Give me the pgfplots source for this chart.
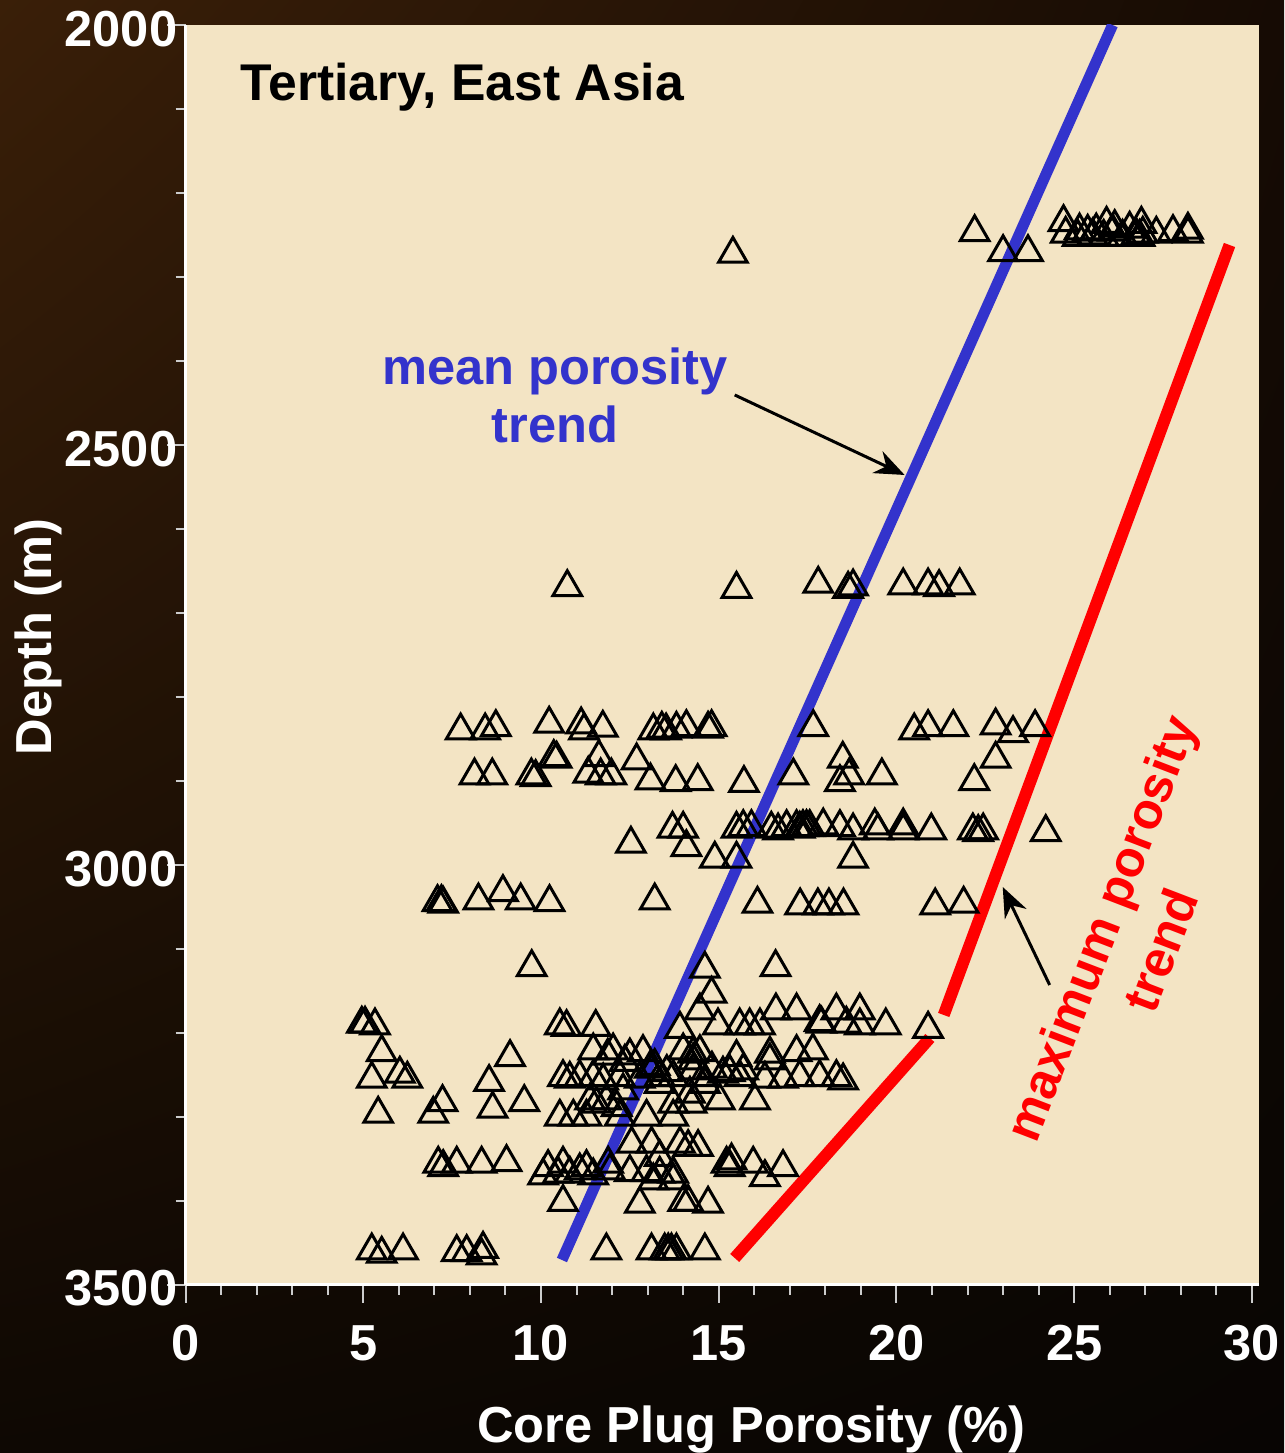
\documentclass[border=0pt]{standalone}
\usepackage{fontspec}
\setmainfont{Liberation Sans}
\usepackage{pgfplots}
\pgfplotsset{compat=1.18}
\usetikzlibrary{arrows.meta,shadings}
\definecolor{bgUL}{RGB}{58,31,8}
\definecolor{bgUR}{RGB}{22,11,4}
\definecolor{bgLL}{RGB}{14,8,3}
\definecolor{bgLR}{RGB}{8,5,3}
\definecolor{beige}{RGB}{243,228,196}
\definecolor{trendblue}{RGB}{51,51,204}
\definecolor{trendred}{RGB}{255,0,0}
\newcommand{\bigfont}{\bfseries\fontsize{14.4}{17}\selectfont}
\pgfplotstableread{
X Y
22.20 2246.9
23.00 2270.7
23.70 2270.7
24.70 2235.0
24.76 2248.9
25.15 2245.0
25.38 2246.5
25.62 2245.0
25.91 2237.0
26.09 2246.5
26.14 2240.9
26.56 2242.9
26.75 2250.9
26.89 2237.0
26.93 2248.9
27.31 2248.9
27.78 2246.9
28.20 2244.1
28.20 2248.9
25.52 2250.9
26.36 2252.5
25.10 2252.5
25.83 2252.5
26.84 2252.5
15.40 2272.7
10.74 2669.6
15.50 2671.7
17.80 2665.7
18.64 2671.7
18.78 2668.9
20.19 2667.7
20.89 2667.7
21.20 2669.6
21.78 2667.7
7.74 2840.4
8.43 2840.4
8.73 2836.4
10.23 2832.4
11.13 2833.3
11.21 2840.4
11.74 2837.2
13.16 2840.4
13.40 2838.4
13.52 2840.4
13.81 2838.4
14.09 2836.4
14.70 2838.4
14.80 2836.4
17.66 2836.4
20.50 2840.4
20.89 2836.4
21.60 2836.4
22.79 2834.4
23.28 2843.5
23.90 2836.4
10.36 2872.1
10.44 2874.1
11.63 2872.1
12.69 2876.1
18.49 2874.1
22.79 2874.1
8.13 2894.0
8.63 2894.0
9.73 2894.0
9.85 2895.9
11.33 2892.0
11.68 2894.0
11.98 2894.0
13.08 2900.0
13.79 2901.9
14.41 2900.7
15.71 2903.0
17.10 2894.0
18.41 2901.9
18.67 2894.0
19.59 2894.0
22.19 2900.7
12.53 2975.3
13.70 2957.5
14.00 2957.5
14.09 2979.3
14.89 2993.2
15.50 2993.2
15.50 2957.5
15.69 2955.5
15.92 2955.5
16.48 2957.5
16.67 2959.5
16.91 2955.5
17.19 2955.5
17.28 2957.5
17.37 2955.5
17.47 2955.5
17.56 2955.5
17.94 2953.6
18.41 2955.5
18.78 2959.5
18.78 2993.2
19.39 2953.6
19.48 2959.5
20.19 2953.6
20.19 2959.5
20.98 2959.5
22.15 2959.5
22.30 2961.4
22.44 2959.5
24.20 2961.4
7.09 3044.8
7.20 3044.8
7.25 3046.8
8.24 3042.9
8.93 3032.9
9.43 3042.9
10.24 3044.8
13.20 3042.9
16.09 3046.8
17.29 3048.8
17.79 3048.8
18.10 3048.8
18.51 3048.8
21.09 3048.8
21.89 3046.8
9.74 3122.2
14.61 3124.2
16.60 3122.2
14.80 3154.0
14.47 3173.9
4.96 3189.7
5.05 3189.7
5.33 3191.7
10.53 3191.7
10.72 3193.6
11.54 3193.6
13.91 3195.7
14.98 3191.7
15.59 3191.7
15.87 3191.7
16.16 3191.7
16.61 3173.9
17.19 3173.9
17.84 3187.7
17.89 3189.7
18.31 3173.9
18.59 3189.7
18.97 3173.9
18.97 3191.7
19.70 3191.7
20.89 3195.7
5.52 3223.4
9.13 3229.4
11.47 3221.5
12.03 3221.5
12.50 3227.5
12.87 3223.4
14.00 3221.5
14.28 3225.4
14.47 3223.4
14.28 3233.4
15.50 3229.4
16.44 3225.4
16.44 3233.4
17.19 3223.4
17.65 3221.5
11.88 3227.8
12.36 3235.0
5.24 3255.2
6.03 3249.2
6.24 3255.2
8.54 3259.1
10.62 3253.2
10.81 3255.2
11.09 3253.2
11.47 3253.2
11.75 3257.2
12.22 3253.2
12.31 3269.2
13.34 3261.2
13.34 3253.2
13.72 3253.2
14.28 3245.3
14.56 3253.2
15.12 3249.2
15.31 3247.2
15.59 3253.2
15.69 3245.3
16.30 3255.2
16.81 3255.2
17.28 3253.2
17.84 3253.2
18.31 3253.2
18.50 3257.2
12.78 3255.2
13.06 3243.3
13.54 3247.2
14.81 3243.3
14.61 3261.2
14.19 3273.1
13.20 3240.0
5.42 3296.9
6.97 3296.9
7.23 3283.0
8.64 3290.9
9.53 3283.0
11.38 3281.1
11.56 3285.0
11.84 3281.1
12.13 3288.9
10.53 3300.4
10.91 3300.4
11.28 3300.4
12.22 3300.4
12.97 3300.4
13.72 3300.4
13.72 3285.0
14.24 3285.0
15.03 3281.1
16.02 3281.1
7.11 3356.4
7.25 3360.4
7.63 3356.4
8.33 3356.4
9.03 3354.4
10.06 3370.4
10.20 3360.4
10.62 3356.4
10.48 3368.3
10.81 3368.3
11.09 3364.4
11.28 3360.4
11.47 3370.4
11.89 3356.4
11.94 3364.4
12.50 3366.3
12.55 3332.6
13.11 3332.6
12.97 3366.3
13.34 3368.3
13.72 3368.3
13.91 3332.6
14.14 3336.5
14.42 3336.5
15.36 3352.5
15.22 3356.4
15.31 3360.4
15.97 3356.4
16.81 3360.4
16.30 3372.3
10.62 3402.0
12.78 3404.1
14.00 3402.0
14.14 3402.0
14.70 3404.1
13.72 3376.3
13.34 3348.4
13.16 3376.3
5.24 3459.7
5.52 3463.6
6.12 3459.7
7.63 3461.6
7.91 3461.6
8.37 3457.7
8.33 3465.6
11.84 3459.7
13.11 3459.7
13.48 3459.7
13.58 3459.7
13.67 3459.7
13.81 3459.7
14.61 3459.7
}\porosity
\begin{document}
\begin{tikzpicture}
\shade[upper left=bgUL, upper right=bgUR, lower left=bgLL, lower right=bgLR] (0,0) rectangle (128.4mm,145.3mm);
\begin{axis}[
  at={(18.55mm,16.85mm)}, anchor=south west,
  scale only axis, width=107.35mm, height=125.95mm,
  xmin=0, xmax=30.2, ymin=2000, ymax=3500, y dir=reverse,
  axis background/.style={fill=beige},
  axis x line*=bottom, axis y line*=left,
  axis line style={white, line width=0.25mm},
  xtick={0,5,...,30}, ytick={2000,2500,3000,3500},
  minor x tick num=4, minor y tick num=4,
  tick align=outside, major tick length=1.8mm, minor tick length=1.0mm,
  tick style={white!80!black, line width=0.2mm},
  ticklabel style={font=\bigfont, text=white},
  /pgf/number format/assume math mode=true,
  /pgf/number format/1000 sep={},
  xticklabel style={anchor=north, inner sep=0pt, yshift=-2.2mm},
  yticklabel style={anchor=east, inner sep=0pt, xshift=1.05mm, yshift=-0.4mm},
]
\addplot[only marks, mark=triangle, mark size=4.7pt, mark options={draw=black, line width=0.3mm}] table {\porosity};
\addplot[trendblue, line width=1.1mm] coordinates {(10.59,3470.8) (26.08,2000)};
\addplot[trendred, line width=1.2mm] coordinates {(15.45,3468.4) (20.94,3206.4)};
\addplot[trendred, line width=1.2mm] coordinates {(21.33,3179.0) (29.37,2262.0)};
\draw[-{Stealth[length=3mm,width=2.4mm]}, line width=0.3mm] (axis cs:15.45,2440.6) -- (axis cs:20.23,2535.9);
\draw[-{Stealth[length=3mm,width=2.4mm]}, line width=0.3mm] (axis cs:24.31,3143.3) -- (axis cs:22.99,3026.6);
\end{axis}
\node[anchor=base west, inner sep=0pt, font=\bfseries\fontsize{14.7}{17}\selectfont, text=black] at (24.0mm,135.2mm) {Tertiary, East Asia};
\node[anchor=base, inner sep=0pt, font=\bigfont, text=trendblue] at (55.5mm,106.8mm) {mean porosity};
\node[anchor=base, inner sep=0pt, font=\bigfont, text=trendblue] at (55.5mm,101.0mm) {trend};
\node[anchor=center, inner sep=0pt, rotate=69, font=\bigfont, text=trendred] at (110.5mm,52.3mm) {maximum porosity};
\node[anchor=center, inner sep=0pt, rotate=69, font=\bigfont, text=trendred] at (116.0mm,50.3mm) {trend};
\node[anchor=base, inner sep=0pt, font=\bigfont, text=white] at (75.15mm,1.1mm) {Core Plug Porosity (\%)};
\node[anchor=base, inner sep=0pt, rotate=90, font=\bigfont, text=white] at (5.1mm,81.6mm) {Depth (m)};
\pgfresetboundingbox
\path (0,0) rectangle (128.4mm,145.3mm);
\end{tikzpicture}
\end{document}
